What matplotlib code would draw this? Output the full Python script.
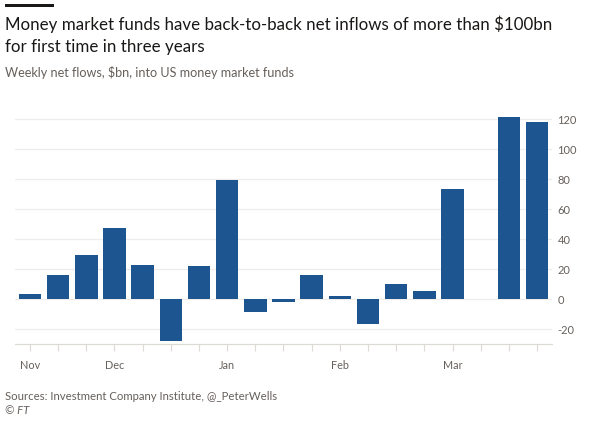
import numpy as np
import matplotlib
matplotlib.use("Agg")
import matplotlib.pyplot as plt
from matplotlib.ticker import FuncFormatter

# Data
week_labels = ["Nov", "", "", "Dec", "", "", "", "Jan", "", "", "", "Feb", "", "", "", "Mar", "", "", ""]
net_flows = [3.4, 16.2, 29.8, 47.8, 22.7, -28.0, 22.0, 79.3, -8.7, -2.0,
             16.2, 2.2, -16.5, 10.0, 5.3, 73.8, np.nan, 121.7, 118.0]
y_ticks = [-20, 0, 20, 40, 60, 80, 100, 120]

title_lines = ["Money market funds have back-to-back net inflows of more than $100bn",
               "for first time in three years"]
subtitle = "Weekly net flows, $bn, into US money market funds"
source = "Sources: Investment Company Institute, @_PeterWells"
credit = "\u00a9 FT"

plt.rcParams['font.family'] = ['Lato', 'DejaVu Sans']

W, H = 606, 422
fig = plt.figure(figsize=(W / 100, H / 100), dpi=100)
fig.patch.set_facecolor("white")

ax = fig.add_axes([15 / W, 1 - 344.3 / H, (552 - 15) / W, (344.3 - 111.8) / H])
ax.set_facecolor("white")

x = np.arange(len(net_flows))
ax.bar(x, net_flows, width=0.8, color="#1d5591", zorder=3)

ax.set_xlim(-0.53, len(net_flows) - 0.47)
ax.set_ylim(-30, 125)
ax.set_yticks(y_ticks)
ax.yaxis.set_major_formatter(FuncFormatter(lambda v, p: f"{int(v)}".replace("\u2212", "-")))
ax.yaxis.tick_right()
ax.grid(axis="y", color="#efecea", linewidth=0.9, zorder=0)
ax.tick_params(axis="y", length=0, pad=4, labelsize=8, labelcolor="#66605c")

ax.set_xticks(x)
ax.set_xticklabels(week_labels)
ax.tick_params(axis="x", length=5, width=0.8, color="#dedad6", pad=6,
               labelsize=7.8, labelcolor="#66605c")

for s in ["top", "right", "left"]:
    ax.spines[s].set_visible(False)
ax.spines["bottom"].set_color("#dedad6")
ax.spines["bottom"].set_linewidth(0.9)

# Decorative top rule
fig.add_artist(plt.Rectangle((5 / W, 1 - 7.3 / H), 49 / W, 3.3 / H,
                             transform=fig.transFigure, color="#1a1817", lw=0))

for i, line in enumerate(title_lines):
    fig.text(5 / W, 1 - (30 + 21.7 * i) / H, line, fontsize=12.2, color="#1a1817",
             va="baseline", ha="left")
fig.text(5 / W, 1 - 77 / H, subtitle, fontsize=9.1, color="#66605c",
         va="baseline", ha="left")
fig.text(5 / W, 1 - 400 / H, source, fontsize=8.2, color="#66605c",
         va="baseline", ha="left")
fig.text(5 / W, 1 - 413.5 / H, credit, fontsize=8.2, color="#66605c",
         va="baseline", ha="left", style="italic")

fig.savefig("out.png", dpi=100, facecolor="white")
